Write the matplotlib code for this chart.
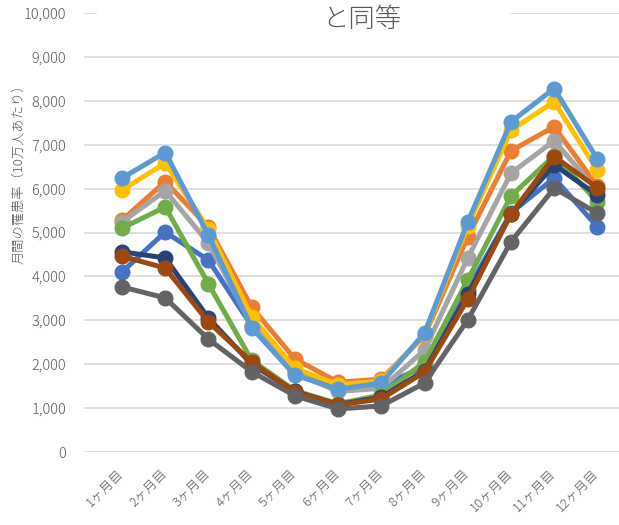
import matplotlib
matplotlib.use("Agg")
import matplotlib.pyplot as plt
import matplotlib.transforms as mtransforms
from matplotlib.ticker import FuncFormatter, MultipleLocator

plt.rcParams['font.family'] = ['Noto Sans CJK JP', 'DejaVu Sans']

categories = ["1ヶ月目", "2ヶ月目", "3ヶ月目", "4ヶ月目", "5ヶ月目", "6ヶ月目",
              "7ヶ月目", "8ヶ月目", "9ヶ月目", "10ヶ月目", "11ヶ月目", "12ヶ月目"]

s_blue       = [4100, 5010, 4370, 2870, 1850, 1450, 1500, 1950, 3700, 5450, 6240, 5130]
s_orange     = [5280, 6160, 5120, 3300, 2120, 1590, 1660, 2650, 4900, 6860, 7410, 6050]
s_gray       = [5240, 5950, 4760, 2900, 1800, 1380, 1450, 2320, 4420, 6350, 7090, 5950]
s_yellow     = [5970, 6580, 5080, 3080, 1910, 1530, 1620, 2680, 5150, 7330, 7980, 6420]
s_lightblue  = [6240, 6820, 4940, 2830, 1750, 1430, 1570, 2710, 5240, 7520, 8280, 6670]
s_green      = [5100, 5580, 3830, 2090, 1400, 1100, 1300, 2050, 3920, 5830, 6750, 5700]
s_darkblue   = [4560, 4420, 3050, 2000, 1380, 1080, 1250, 1850, 3600, 5420, 6540, 5850]
s_brown      = [4460, 4190, 2960, 2050, 1370, 1070, 1210, 1820, 3480, 5420, 6730, 6020]
s_darkgray   = [3760, 3510, 2570, 1830, 1280, 980, 1050, 1570, 3010, 4790, 6010, 5440]

series = [s_blue, s_orange, s_gray, s_yellow, s_lightblue, s_green, s_darkblue, s_brown, s_darkgray]
colors = ["#4472C4", "#ED7D31", "#A5A5A5", "#FFC000", "#5B9BD5", "#70AD47", "#264478", "#9E480E", "#636363"]

title = "と同等"
ylabel = "月間の罹患率（10万人あたり）"

fig = plt.figure(figsize=(6.19, 5.25), dpi=100)
W, H = 619, 525
left, right, top, bottom = 84, 619, 13, 452
ax = fig.add_axes([left / W, (H - bottom) / H, (right - left) / W, (bottom - top) / H])

x = list(range(len(categories)))
for vals, c in zip(series, colors):
    ax.plot(x, vals, color=c, linewidth=3.6, marker='o', markersize=10.5,
            solid_capstyle='round', solid_joinstyle='round', zorder=3)

ax.set_ylim(0, 10000)
ax.set_xlim(-0.88, 11.5)
ax.yaxis.set_major_locator(MultipleLocator(1000))
ax.yaxis.set_major_formatter(FuncFormatter(lambda v, p: f"{int(v):,}"))
ax.grid(axis='y', color='#D9D9D9', linewidth=1.2, zorder=0)
ax.set_axisbelow(True)
for sp in ax.spines.values():
    sp.set_visible(False)
ax.tick_params(axis='y', length=0, pad=13, labelsize=10.5, labelcolor='#595959')
ax.tick_params(axis='x', length=0, pad=11, labelsize=9.5, labelcolor='#595959')
for lbl in ax.get_yticklabels():
    lbl.set_fontweight('light')
ax.set_xticks(x)
ax.set_xticklabels(categories, rotation=45, ha='right', va='top', rotation_mode='anchor',
                   fontweight='light')
offset = mtransforms.ScaledTranslation(-5 / 100, 0, fig.dpi_scale_trans)
for lbl in ax.get_xticklabels():
    lbl.set_transform(lbl.get_transform() + offset)

fig.text(19 / W, 1 - 171 / H, ylabel, rotation=90, ha='center', va='center',
         fontsize=9.5, color='#595959', fontweight='light')

# title box covering the top gridline
fig.patches.append(plt.Rectangle((97 / W, 1 - 31 / H), (510 - 97) / W, 31 / H,
                                 transform=fig.transFigure, facecolor='white',
                                 edgecolor='none', zorder=5))
fig.text(362 / W, 1 - 27 / H, title, ha='center', va='baseline', fontsize=19,
         color='#595959', fontweight='light', zorder=6)

fig.savefig("out.png", dpi=100)
